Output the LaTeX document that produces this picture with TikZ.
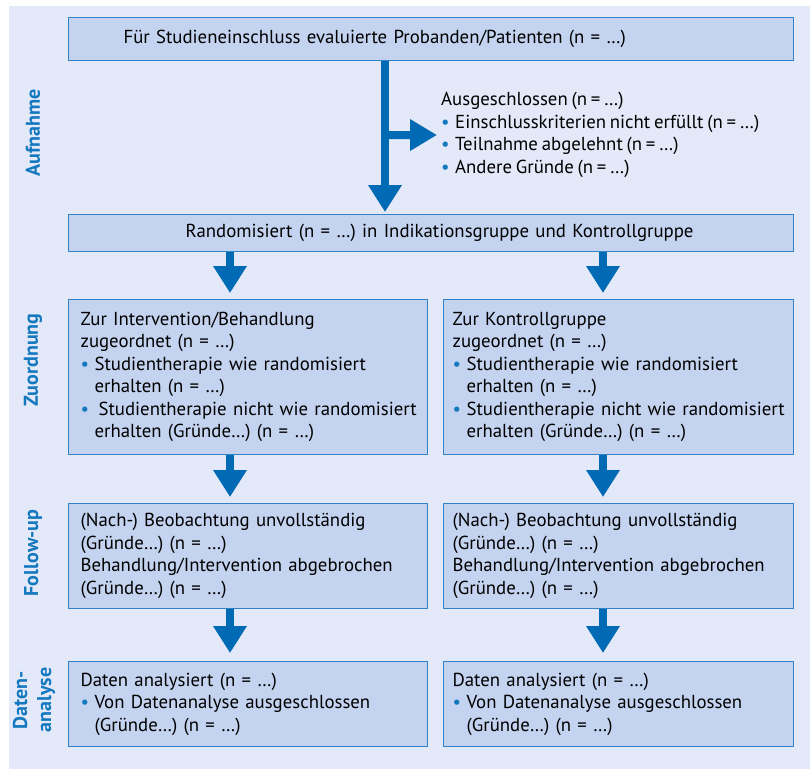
\documentclass[tikz,border=0pt]{standalone}
\usepackage{fontspec}
\setmainfont{PT Sans}[WordSpace=0.75]
\usetikzlibrary{arrows.meta}

\definecolor{bgblue}{RGB}{227,233,248}
\definecolor{boxfill}{RGB}{196,211,239}
\definecolor{boxline}{RGB}{50,130,200}
\definecolor{arrowblue}{RGB}{0,106,180}
\definecolor{dotblue}{RGB}{20,120,190}

\newcommand\bl{\makebox[14pt][l]{\textcolor{dotblue}{\textbullet}}}
\newcommand\ind{\hspace*{14pt}}

\tikzset{
  stage/.style={draw=boxline, line width=1.2pt, fill=boxfill, anchor=north west,
    align=left, inner xsep=12pt, inner ysep=0pt, font=\fontsize{18.8}{22.5}\selectfont},
  flow/.style={arrowblue, line width=8pt, shorten >=6pt, -{Triangle[width=32pt,length=27pt]}},
  phase/.style={rotate=90, text=dotblue, align=center, font=\bfseries\fontsize{20}{24}\selectfont},
}

\begin{document}
\begin{tikzpicture}[x=1pt,y=-1pt]

        \useasboundingbox (0,0) rectangle (810,769);
        \fill[bgblue] (9,6) rectangle (810,769);

        \coordinate (spine) at (385,0);
        \coordinate (branch) at (385,135);
        \coordinate (lcol) at (230,0);
        \coordinate (rcol) at (603,0);

        % boxes
        \begin{scope}[every node/.style={stage}]
          \node (eval) at (68,17)  [text width=701pt, minimum height=43pt]
            {\hspace*{43pt}Für Studieneinschluss evaluierte Probanden/Patienten (n = …)};
          \node (rand) at (68,214) [text width=701pt, minimum height=37pt]
            {\hspace*{105pt}Randomisiert (n = …) in Indikationsgruppe und Kontrollgruppe};

          \node (zl) at (68,299)  [text width=335pt, minimum height=155pt]
            {Zur Intervention/Behandlung\\zugeordnet (n = …)\\
             \bl Studientherapie wie randomisiert\\\ind erhalten (n = …)\\
             \mbox{\bl\hspace*{4pt}Studientherapie nicht wie randomisiert}\\\ind erhalten (Gründe…) (n = …)};
          \node (zr) at (443,299) [text width=332pt, minimum height=155pt, inner xsep=9pt]
            {Zur Kontrollgruppe\\zugeordnet (n = …)\\
             \bl Studientherapie wie randomisiert\\\ind erhalten (n = …)\\
             \mbox{\bl Studientherapie nicht wie randomisiert}\\\ind erhalten (Gründe…) (n = …)};

          \node (fl) at (68,503)  [text width=335pt, minimum height=105pt]
            {(Nach-) Beobachtung unvollständig\\(Gründe…) (n = …)\\
             Behandlung/Intervention abgebrochen\\(Gründe…) (n = …)};
          \node (fr) at (443,503) [text width=332pt, minimum height=105pt, inner xsep=9pt]
            {(Nach-) Beobachtung unvollständig\\(Gründe…) (n = …)\\
             Behandlung/Intervention abgebrochen\\(Gründe…) (n = …)};

          \node (dl) at (68,661)  [text width=335pt, minimum height=85pt]
            {Daten analysiert (n = …)\\
             \bl Von Datenanalyse ausgeschlossen\\\ind(Gründe…) (n = …)};
          \node (dr) at (443,661) [text width=332pt, minimum height=85pt, inner xsep=9pt]
            {Daten analysiert (n = …)\\
             \bl Von Datenanalyse ausgeschlossen\\\ind(Gründe…) (n = …)};
        \end{scope}

        \node (excl) at (441,92) [anchor=north west, align=left, inner sep=0pt,
          font=\fontsize{18.8}{22.7}\selectfont]
          {Ausgeschlossen (n = …)\\
           \bl Einschlusskriterien nicht erfüllt (n = …)\\
           \bl Teilnahme abgelehnt (n = …)\\
           \bl Andere Gründe (n = …)};

        % phase labels
        \begin{scope}[every node/.style={phase}]
          \node (aufn) at (33,133) {Aufnahme};
          \node (zuor) at (33,360) {Zuordnung};
          \node (foll) at (33,553) {Follow-up};
          \node (anal) at (34,700) {Daten-\\analyse};
        \end{scope}

        % arrows
        \draw[flow, shorten >=2pt] (eval.south -| spine) -- (rand.north -| spine);
        \draw[flow, shorten >=4pt, -{Triangle[width=30pt,length=27pt]}] (branch) -- (excl.west);

        \draw[flow] (rand.south -| lcol) -- (zl.north -| lcol);
        \draw[flow] (rand.south -| rcol) -- (zr.north -| rcol);
        \draw[flow] (zl.south -| lcol) -- (fl.north -| lcol);
        \draw[flow] (zr.south -| rcol) -- (fr.north -| rcol);
        \draw[flow, shorten >=8pt] (fl.south -| lcol) -- (dl.north -| lcol);
        \draw[flow, shorten >=8pt] (fr.south -| rcol) -- (dr.north -| rcol);

      \end{tikzpicture}
\end{document}
